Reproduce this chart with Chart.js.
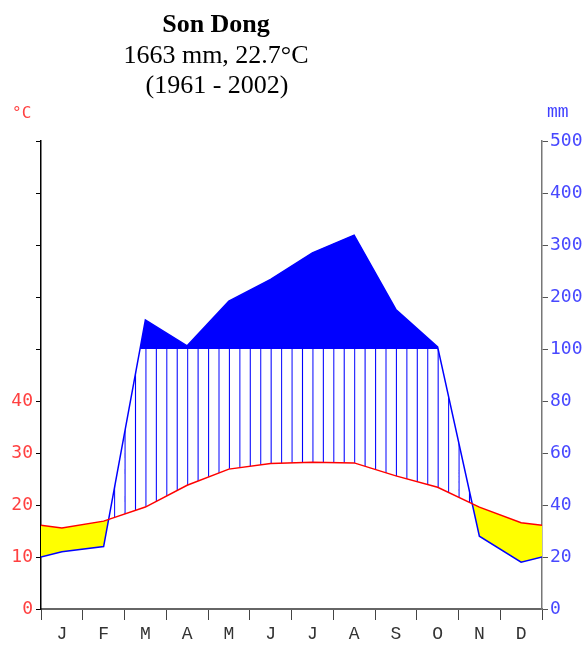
<!DOCTYPE html>
<html>
<head>
<meta charset="utf-8">
<title>Son Dong</title>
<script src="https://cdn.jsdelivr.net/npm/chart.js@4.4.1/dist/chart.umd.min.js"></script>
<style>
  html, body { margin: 0; padding: 0; background: #fff; }
  canvas { display: block; }
</style>
</head>
<body>
<canvas id="klima" width="584" height="646"></canvas>
<script>
// DATOS
const stationName = 'Son Dong';
const summaryLine = '1663 mm, 22.7°C';
const periodLine = '(1961 - 2002)';
const months = ['J', 'F', 'M', 'A', 'M', 'J', 'J', 'A', 'S', 'O', 'N', 'D'];
const tempC = [15.6, 16.9, 19.6, 23.8, 26.9, 28.0, 28.2, 28.1, 25.6, 23.4, 19.6, 16.6];
const precipMm = [22, 24, 156, 106, 192, 234, 285, 319, 176, 104, 28, 18];
const tempTickLabels = ['0', '10', '20', '30', '40'];
const precipTickLabels = ['0', '20', '40', '60', '80', '100', '200', '300', '400', '500'];

// Escala Walter-Lieth: 0-100 mm en pasos de 20, encima de 100 en pasos de 100
class ClimateScale extends Chart.LinearScale {
  toDecimal(v) {
    const mm = v * (this.options.mmPerUnit || 1);
    const u = mm <= 100 ? mm / 20 : 5 + (mm - 100) / 100;
    return u / 9;
  }
  getPixelForValue(value) {
    return this.getPixelForDecimal(this.toDecimal(value));
  }
  getValueForPixel(pixel) {
    const u = this.getDecimalForPixel(pixel) * 9;
    const mm = u <= 5 ? u * 20 : 100 + (u - 5) * 100;
    return mm / (this.options.mmPerUnit || 1);
  }
}
ClimateScale.id = 'climate';
ClimateScale.defaults = {};
Chart.register(ClimateScale);

// meses ciclicos: diciembre antes de enero y enero despues de diciembre
function cyclic(values) {
  const pts = values.map((v, i) => ({ x: i + 0.5, y: v }));
  pts.unshift({ x: -0.5, y: values[values.length - 1] });
  pts.push({ x: values.length + 0.5, y: values[0] });
  return pts;
}

const precipTicks = precipTickLabels.map(Number);
const tempTicks = tempTickLabels.map(Number)
  .concat(precipTicks.filter(v => v >= 100).map(v => v / 2));

// rayado vertical (meses humedos)
const tile = document.createElement('canvas');
tile.width = 10;
tile.height = 10;
const tctx = tile.getContext('2d');
tctx.fillStyle = '#0000ff';
tctx.fillRect(0, 0, 1, 10);
const hatch = tctx.createPattern(tile, 'repeat');

const hatchPlugin = {
  id: 'hatch',
  beforeDatasetsDraw(chart) {
    const a = chart.chartArea;
    const step = (a.right - a.left) / (months.length * 4);
    hatch.setTransform(new DOMMatrix().translateSelf(a.left, 0).scaleSelf(step / 10, 1));
  }
};

const textPlugin = {
  id: 'textos',
  afterDraw(chart) {
    const ctx = chart.ctx;
    ctx.save();
    ctx.fillStyle = '#000';
    ctx.textAlign = 'center';
    ctx.textBaseline = 'alphabetic';
    ctx.font = 'bold 26px "Liberation Serif"';
    ctx.fillText(stationName, 216, 32);
    ctx.font = '26px "Liberation Serif"';
    ctx.fillText(summaryLine, 216, 63);
    ctx.fillText(periodLine, 217, 93);

    ctx.textAlign = 'left';
    ctx.fillStyle = '#ff4040';
    ctx.font = '16px "DejaVu Sans Mono"';
    ctx.fillText('°C', 12, 118);
    ctx.fillStyle = '#4040ff';
    ctx.font = '18px "Liberation Mono"';
    ctx.fillText('mm', 547, 117);
    ctx.restore();
  }
};

const ctx = document.getElementById('klima').getContext('2d');
const chart = new Chart(ctx, {
  type: 'line',
  data: {
    datasets: [
      {
        label: 'Temperatura',
        data: cyclic(tempC),
        yAxisID: 'yT',
        borderColor: '#ff0000',
        backgroundColor: 'rgba(0,0,0,0)',
        borderWidth: 1.5,
        fill: false
      },
      {
        label: 'Precipitacion',
        data: cyclic(precipMm),
        yAxisID: 'yP',
        borderColor: '#0000ff',
        backgroundColor: 'rgba(0,0,0,0)',
        borderWidth: 1.5,
        fill: { target: { value: 100 }, above: '#0000ff', below: 'rgba(0,0,0,0)' }
      },
      {
        label: 'Humedo / arido',
        data: cyclic(precipMm),
        yAxisID: 'yP',
        borderWidth: 0,
        borderColor: 'rgba(0,0,0,0)',
        backgroundColor: 'rgba(0,0,0,0)',
        fill: { target: 0, above: hatch, below: '#ffff00' }
      }
    ]
  },
  options: {
    responsive: false,
    animation: false,
    events: [],
    layout: { padding: { top: 141, left: 0, right: 0, bottom: 0 } },
    elements: {
      point: { radius: 0 },
      line: { tension: 0 }
    },
    plugins: {
      legend: { display: false },
      tooltip: { enabled: false },
      title: { display: false }
    },
    scales: {
      x: {
        type: 'linear',
        min: 0,
        max: 12,
        afterFit: s => { s.height = 37; },
        afterBuildTicks: s => { s.ticks = months.map((m, i) => ({ value: i })).concat([{ value: 12 }]); },
        border: { display: true, color: '#666666', width: 2 },
        grid: { drawOnChartArea: false, drawTicks: true, tickLength: 11, color: '#444444', lineWidth: 1 },
        ticks: {
          autoSkip: false,
          maxRotation: 0,
          padding: 3,
          labelOffset: 501 / 24,
          color: '#333333',
          font: { family: '"Liberation Mono"', size: 18 },
          callback: v => months[v] || ''
        }
      },
      yT: {
        type: 'climate',
        position: 'left',
        mmPerUnit: 2,
        min: 0,
        max: 250,
        afterFit: s => { s.width = 41; },
        afterBuildTicks: s => { s.ticks = tempTicks.map(v => ({ value: v })); },
        border: { display: true, color: '#000000', width: 1.5 },
        grid: { drawOnChartArea: false, drawTicks: true, tickLength: 5, color: '#000000' },
        ticks: {
          autoSkip: false,
          padding: 3,
          color: '#ff4040',
          font: { family: '"DejaVu Sans Mono"', size: 18 },
          callback: v => (tempTickLabels.includes(String(v)) ? String(v) : '')
        }
      },
      yP: {
        type: 'climate',
        position: 'right',
        mmPerUnit: 1,
        min: 0,
        max: 500,
        afterFit: s => { s.width = 42; },
        afterBuildTicks: s => { s.ticks = precipTicks.map(v => ({ value: v })); },
        border: { display: true, color: '#777777', width: 1.5 },
        grid: { drawOnChartArea: false, drawTicks: true, tickLength: 6, color: '#555555' },
        ticks: {
          autoSkip: false,
          padding: 2,
          color: '#4848ff',
          font: { family: '"DejaVu Sans Mono"', size: 18 },
          callback: v => String(v)
        }
      }
    }
  },
  plugins: [hatchPlugin, textPlugin]
});
</script>
</body>
</html>
